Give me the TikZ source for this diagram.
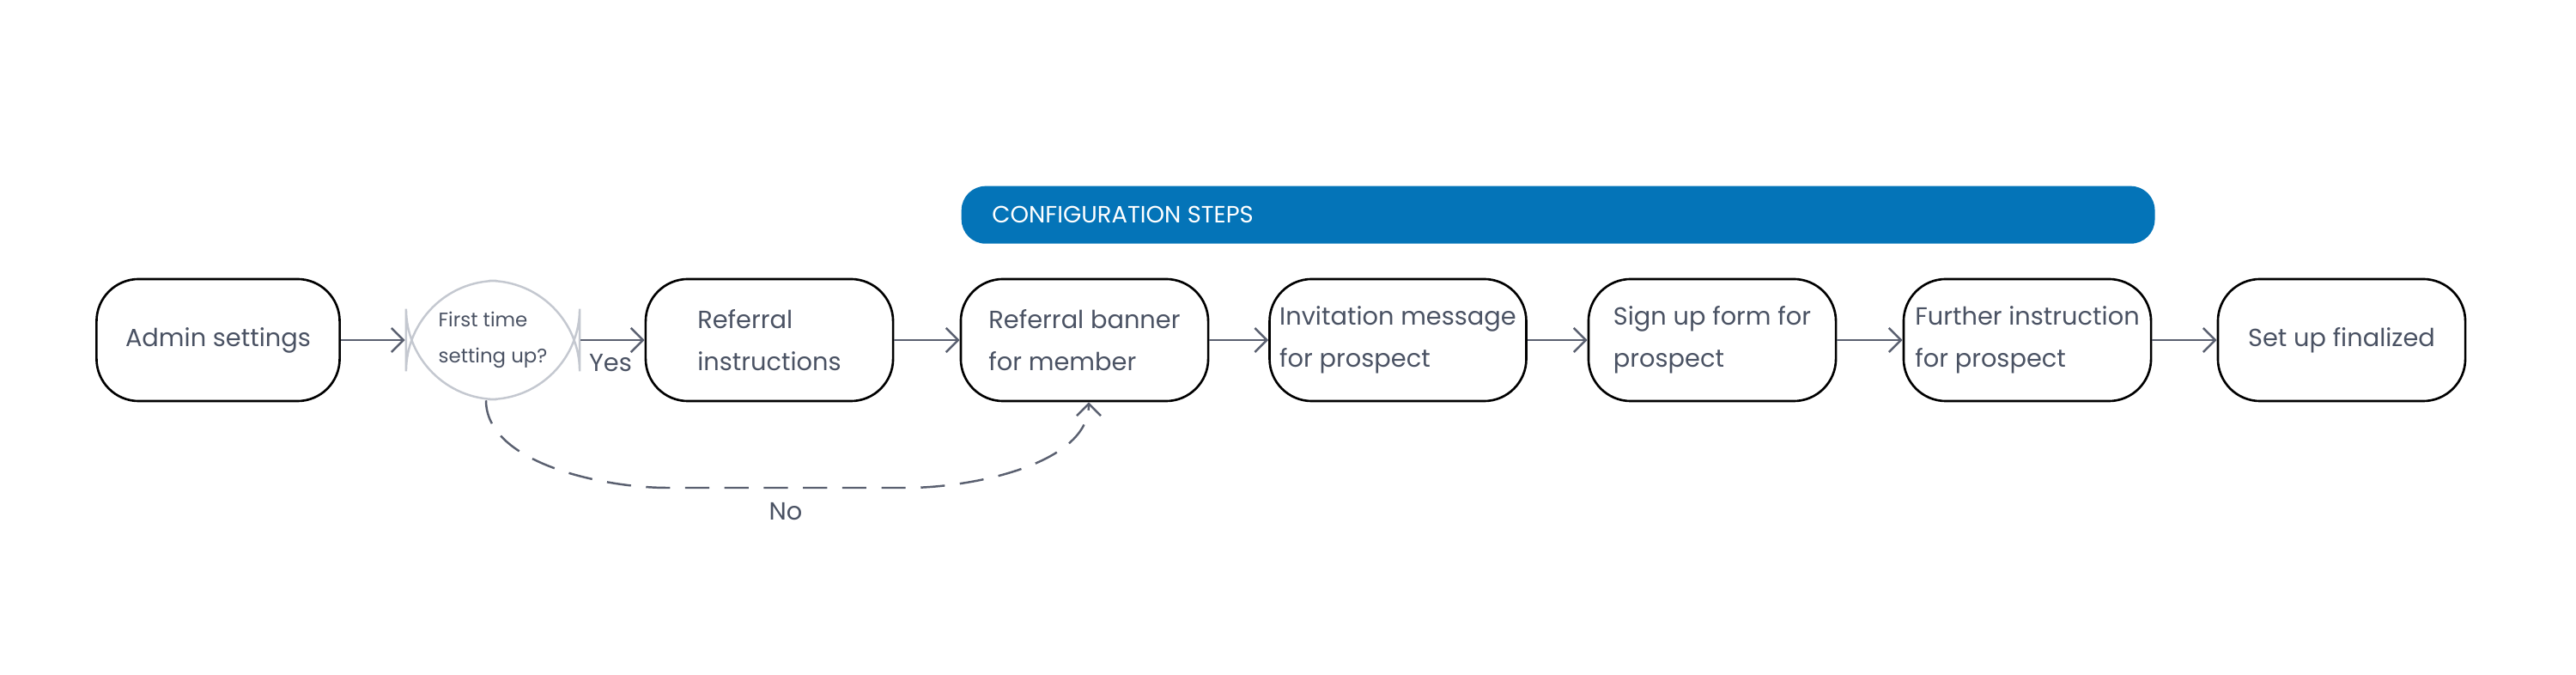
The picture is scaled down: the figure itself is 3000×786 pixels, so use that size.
\documentclass[tikz,border=0pt]{standalone}
\usepackage{fontspec}
\setmainfont{Poppins}
\usetikzlibrary{arrows.meta}
\definecolor{txt}{HTML}{4A5263}
\definecolor{arr}{HTML}{5A6070}
\definecolor{bar}{HTML}{0474B8}
\definecolor{dec}{HTML}{C4C8D0}
\begin{document}
\begin{tikzpicture}[x=0.01cm,y=-0.01cm,
  box/.style={draw=black,line width=0.75pt,rounded corners=14pt,minimum width=2.88cm,minimum height=1.42cm,text=txt,align=left,font=\fontsize{8.2}{14}\selectfont},
  conn/.style={draw=arr,line width=0.7pt,-{Straight Barb[length=4pt,width=8pt]}},
  lbl/.style={text=txt,font=\fontsize{8.2}{10}\selectfont}]
\useasboundingbox (0,0) rectangle (3000,786);
\node[fill=bar,rounded corners=8pt,minimum width=13.89cm,minimum height=0.67cm,anchor=north west,inner sep=0] (bar) at (1119,216) {};
\node[anchor=west,text=white,font=\fontsize{7.8}{10}\selectfont] (bt) at (1143,250) {CONFIGURATION STEPS};
\node[box,minimum width=2.83cm] (a) at (254,396) {Admin settings};
\node[draw=dec,line width=0.7pt,rounded corners=30pt,minimum width=2.02cm,minimum height=1.38cm,text=txt,align=left,font=\fontsize{6.5}{12}\selectfont] (d) at (574,396) {First time\\setting up?};
\node[box] (r) at (896,396) {Referral\\instructions};
\node[box] (b) at (1263,396) {Referral banner\\for member};
\node[box] (i) at (1628,396) {Invitation message\\for prospect};
\node[box] (s) at (1994,396) {Sign up form for\\prospect};
\node[box] (f) at (2361,396) {Further instruction\\for prospect};
\node[box] (u) at (2727,396) {Set up finalized};
\draw[conn] (a) -- (d);
\draw[conn] (d) -- (r);
\draw[conn] (r) -- (b);
\draw[conn] (b) -- (i);
\draw[conn] (i) -- (s);
\draw[conn] (s) -- (f);
\draw[conn] (f) -- (u);
\coordinate (c1) at (566,568);
\coordinate (c2) at (1268,568);
\draw[conn,dash pattern=on 8pt off 5pt] (d.south -| c1) to[out=-90,in=180,looseness=0.8] ([xshift=60]c1) -- ([xshift=-60]c2) to[out=0,in=-90,looseness=0.8] (b.south -| c2);
\node[lbl] (yes) at (711,423) {Yes};
\node[lbl] (no) at (915,596) {No};
\end{tikzpicture}
\end{document}
